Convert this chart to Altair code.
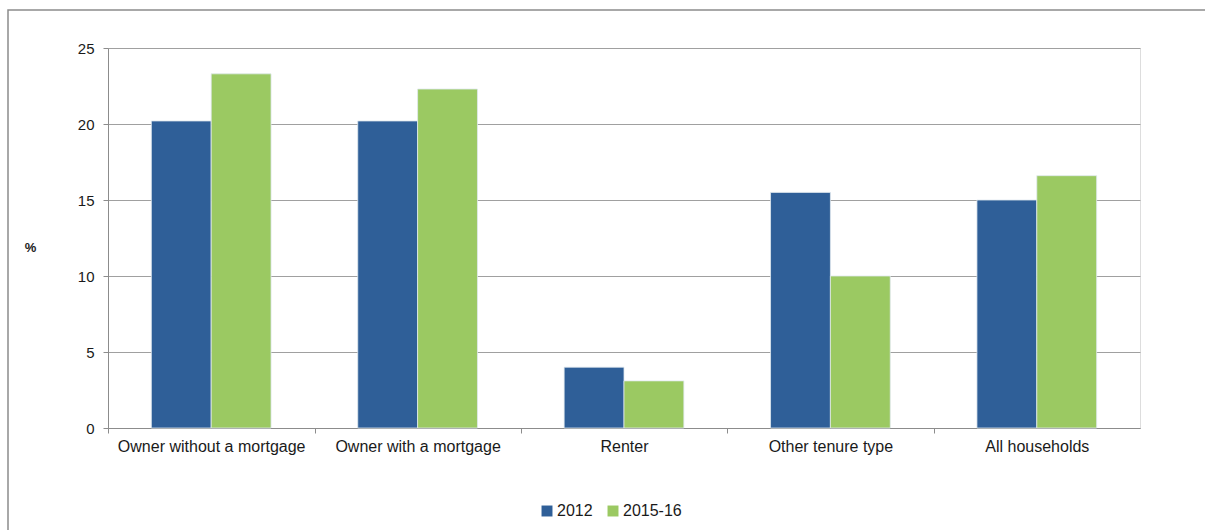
import altair as alt
import pandas as pd

categories = ["Owner without a mortgage", "Owner with a mortgage", "Renter", "Other tenure type", "All households"]
series = ["2012", "2015-16"]
values_2012 = [20.2, 20.2, 4.0, 15.5, 15.0]
values_2015 = [23.3, 22.3, 3.1, 10.0, 16.6]
colors = ["#2F5F98", "#9BC962"]

rows = []
for c, a, b in zip(categories, values_2012, values_2015):
    rows.append({"cat": c, "year": "2012", "value": a})
    rows.append({"cat": c, "year": "2015-16", "value": b})
df = pd.DataFrame(rows)

W, H = 1032, 380

frame = alt.Chart(pd.DataFrame({"a": [0]})).mark_rect(
    fill=None, stroke="#8c8c8c", strokeWidth=1.5
).encode(x=alt.value(-100), x2=alt.value(1102), y=alt.value(-38), y2=alt.value(492))

bars = alt.Chart(df).mark_bar(stroke="#dfe8ef", strokeWidth=0.8).encode(
    x=alt.X("cat:N", sort=categories, title=None,
            scale=alt.Scale(paddingInner=0.42, paddingOuter=0.21),
            axis=alt.Axis(labelAngle=0, labelFont="Liberation Sans", labelFontSize=16,
                          labelColor="#1a1a1a", domainColor="#8c8c8c", tickColor="#8c8c8c",
                          tickSize=5, tickOffset=-103, labelOffset=103, labelPadding=5,
                          labelLimit=400, grid=False)),
    xOffset=alt.XOffset("year:N", sort=series),
    y=alt.Y("value:Q", title="%",
            scale=alt.Scale(domain=[0, 25]),
            axis=alt.Axis(values=[0, 5, 10, 15, 20, 25], labelFont="Liberation Sans",
                          labelFontSize=15, labelColor="#1a1a1a", domainColor="#8c8c8c",
                          tickColor="#8c8c8c", tickSize=5, labelPadding=9,
                          gridColor="#a0a0a0", gridWidth=1,
                          titleAngle=0, titleX=-78, titleY=199, titleAlign="center",
                          titleBaseline="middle", titleFont="Liberation Sans",
                          titleFontSize=13, titleFontWeight="bold", titleColor="#1a1a1a")),
    color=alt.Color("year:N", sort=series,
                    scale=alt.Scale(domain=series, range=colors),
                    legend=alt.Legend(title=None, orient="none", direction="horizontal",
                                      legendX=431, legendY=455, symbolType="square",
                                      symbolSize=120, symbolStrokeWidth=0,
                                      labelFont="Liberation Sans", labelFontSize=16,
                                      labelColor="#1a1a1a", columnPadding=12, labelOffset=2)),
)

chart = alt.layer(frame, bars).properties(
    width=W, height=H,
    autosize=alt.AutoSizeParams(type="none"),
    padding={"left": 108, "top": 48, "right": 65, "bottom": 102},
).configure_view(stroke=None).configure(background="white")

chart.save("out.html", embed_options={"renderer": "svg", "actions": False})
